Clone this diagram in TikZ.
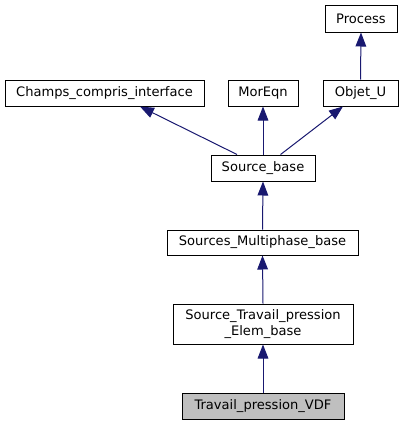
\documentclass[tikz,border=0pt]{standalone}
\usepackage{fontspec}
\setmainfont{DejaVu Sans}
\usetikzlibrary{arrows.meta}
\definecolor{edgeblue}{HTML}{191970}
\begin{document}
\begin{tikzpicture}[x=0.75pt,y=-0.75pt,
  cls/.style={draw=black,fill=white,line width=0.75pt,inner sep=0pt,align=center,font=\fontsize{9.8pt}{11.5pt}\selectfont},
  cur/.style={cls,fill=black!25},
  inh/.style={draw=edgeblue,line width=0.75pt,{Triangle[length=10.5pt,width=8pt,fill=edgeblue]}-}]
\useasboundingbox (0,0) rectangle (403,425);
\node[cls,minimum width=54pt,minimum height=20.25pt] (process) at (361,18.5) {Process};
\node[cls,minimum width=149.25pt,minimum height=19.5pt] (champs) at (104.5,93) {Champs\_compris\_interface};
\node[cls,minimum width=52.5pt,minimum height=19.5pt] (moreqn) at (263,93) {MorEqn};
\node[cls,minimum width=56.25pt,minimum height=19.5pt] (objet) at (360.5,93) {Objet\_U};
\node[cls,minimum width=78pt,minimum height=19.5pt] (sb) at (263,168) {Source\_base};
\node[cls,minimum width=143.25pt,minimum height=18.75pt] (smb) at (262.5,242.5) {Sources\_Multiphase\_base};
\node[cls,minimum width=135pt,minimum height=30pt] (stp) at (263,324) {Source\_Travail\_pression\\\_Elem\_base};
\node[cur,minimum width=121.5pt,minimum height=19.5pt] (tpv) at (263,406) {Travail\_pression\_VDF};
\draw[inh] (process.south) -- (objet.north);
\draw[inh] ([xshift=26.6pt]champs.south) -- ([xshift=-19.5pt]sb.north);
\draw[inh] (moreqn.south) -- (sb.north);
\draw[inh] (objet) -- (sb);
\draw[inh] (sb.south) -- (smb.north);
\draw[inh] (smb.south) -- (stp.north);
\draw[inh] (stp.south) -- (tpv.north);
\end{tikzpicture}
\end{document}
